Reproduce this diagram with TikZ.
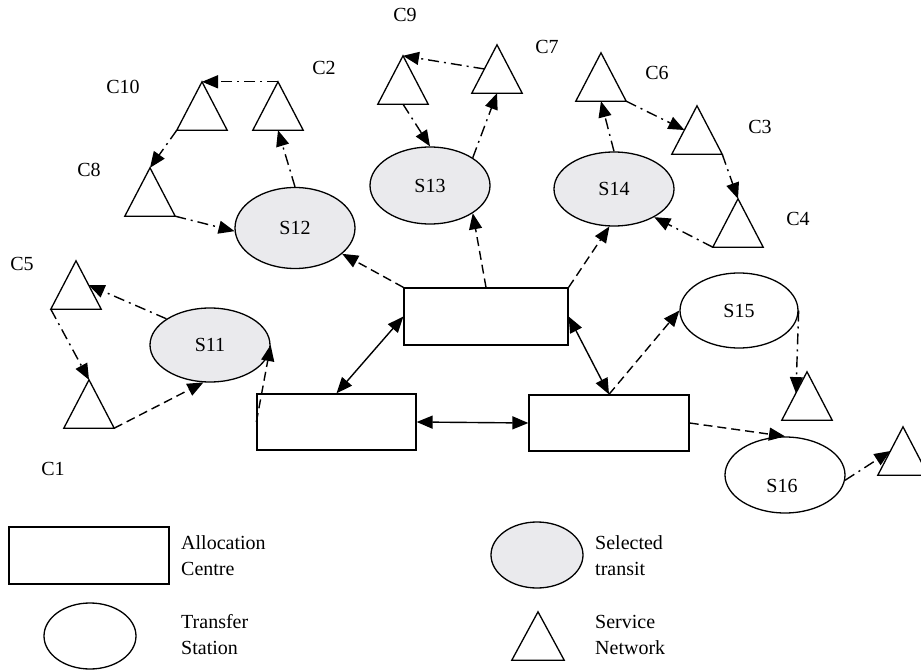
\documentclass[tikz,border=0pt]{standalone}
\usepackage{fontspec}
\setmainfont{Liberation Serif}
\usetikzlibrary{shapes.geometric,arrows.meta,calc}
\definecolor{selfill}{RGB}{234,234,237}
\tikzset{
  every node/.style={font=\fontsize{20}{26}\selectfont, text=black},
  acbox/.style={draw, line width=1.3pt, inner sep=0pt},
  selell/.style={ellipse, draw, line width=1.3pt, fill=selfill, inner sep=0pt, minimum width=120pt},
  trell/.style={ellipse, draw, line width=1.3pt, fill=white, inner sep=0pt, minimum width=120pt},
  trinode/.style={rectangle, draw=none, inner sep=0pt, minimum width=50pt, minimum height=48pt},
  triline/.style={draw, line width=1.3pt, line join=miter},
  tip/.style={-{Triangle[length=16pt,width=13pt]}},
  dsh/.style={tip, line width=1.4pt, dash pattern=on 9pt off 5pt},
  ddot/.style={tip, line width=1.4pt, dash pattern=on 11pt off 5pt on 2pt off 5pt},
  dbl/.style={{Triangle[length=16pt,width=13pt]}-{Triangle[length=16pt,width=13pt]}, line width=1.4pt},
  lbl/.style={inner sep=0pt},
  legtxt/.style={inner sep=0pt, align=left, anchor=west}
}
\begin{document}
\begin{tikzpicture}[x=1pt,y=-1pt]
\useasboundingbox (0,0) rectangle (921,671);

% allocation centres
\node[acbox, minimum width=159pt, minimum height=56pt] (B1) at (336.5,422) {};
\node[acbox, minimum width=164pt, minimum height=57pt] (B2) at (486,316.5) {};
\node[acbox, minimum width=160pt, minimum height=56pt] (B3) at (609,423) {};

% stations
\node[selell, minimum height=74pt] (S11) at (210,345) {S11};
\node[selell, minimum height=81pt] (S12) at (295,228) {S12};
\node[selell, minimum height=77pt] (S13) at (430,185.5) {S13};
\node[selell, minimum height=74pt] (S14) at (614,189) {S14};
\node[trell, minimum width=118pt, minimum height=75pt] (S15) at (739,310.5) {S15};
\node[trell, minimum height=76pt] (S16) at (785,475) {};
\node[lbl] (S16t) at (782,486) {S16};

% service network triangles
\node[trinode] (tC10) at (202,106) {};
\node[trinode] (tC2) at (278,106) {};
\node[trinode] (tC8) at (150,192) {};
\node[trinode] (tC9) at (403,80) {};
\node[trinode] (tC7) at (497,69) {};
\node[trinode] (tC6) at (601,77) {};
\node[trinode] (tC3) at (697,130) {};
\node[trinode] (tC4) at (738,223) {};
\node[trinode] (tC5) at (76,285) {};
\node[trinode] (tC1) at (89,404) {};
\node[trinode] (t15) at (807,396) {};
\node[trinode] (t16) at (903,451) {};
\foreach \n in {tC10,tC2,tC8,tC9,tC7,tC6,tC3,tC4,tC5,tC1,t15,t16}
  \draw[triline] (\n.south west) -- (\n.north) -- (\n.south east) -- cycle;

% triangle labels
\node[lbl] (lC10) at (123,87) {C10};
\node[lbl] (lC2) at (324,68) {C2};
\node[lbl] (lC8) at (89,170) {C8};
\node[lbl] (lC9) at (405,15) {C9};
\node[lbl] (lC7) at (547,47) {C7};
\node[lbl] (lC6) at (657,73) {C6};
\node[lbl] (lC3) at (760,127) {C3};
\node[lbl] (lC4) at (798,219) {C4};
\node[lbl] (lC5) at (22,264) {C5};
\node[lbl] (lC1) at (53,469) {C1};

% solid double arrows between centres
\draw[dbl] (B1.north) -- (B2.west);
\draw[dbl] (B1.east) -- (B3.west);
\draw[dbl] (B2.east) -- (B3.north);

% dashed arrows
\draw[dsh] (B2.north west) -- (S12);
\draw[dsh] (B2.north) -- (S13.-33);
\draw[dsh] (B2.north east) -- (S14.-97);
\draw[dsh] (B3.north) -- (S15.west);
\draw[dsh] (B3.east) -- (S16.north);
\draw[dsh] (B1.west) -- (S11.east);
\draw[dsh] (tC1.south east) -- (S11.-100);

% dash-dot arrows
\draw[ddot] (S11.149) -- ($(tC5.north)!0.5!(tC5.south east)$);
\draw[ddot] (tC5.south west) -- (tC1.north);
\draw[ddot] (tC8.south east) -- (S12.183);
\draw[ddot] (S12.north) -- (tC2.south);
\draw[ddot] (tC2.north) -- (tC10.north);
\draw[ddot] (tC10.south west) -- (tC8.north);
\draw[ddot] (tC9.south) -- (S13.north);
\draw[ddot] (S13.33) -- (tC7.south);
\draw[ddot] ($(tC7.north)!0.5!(tC7.south west)$) -- (tC9.north);
\draw[ddot] (S14.north) -- (tC6.south);
\draw[ddot] (tC6.south east) -- ($(tC3.north)!0.5!(tC3.south west)$);
\draw[ddot] (tC3.south east) -- (tC4.north);
\draw[ddot] (tC4.south west) -- (S14.-35);
\draw[ddot] (S15.east) -- ($(t15.north)!0.44!(t15.south west)$);
\draw[ddot] (S16.-5) -- ($(t16.north)!0.5!(t16.south west)$);

% legend
\node[acbox, minimum width=160pt, minimum height=57pt] (LB) at (89,555.5) {};
\node[legtxt] (LBt) at (181,556) {Allocation\\Centre};
\node[trell, minimum width=92pt, minimum height=66pt] (LT) at (90,636) {};
\node[legtxt] (LTt) at (181,635) {Transfer\\Station};
\node[selell, minimum width=92pt, minimum height=66pt] (LS) at (537,555) {};
\node[legtxt] (LSt) at (595,556) {Selected\\transit};
\node[trinode, minimum width=52pt] (LN) at (538,636) {};
\draw[triline] (LN.south west) -- (LN.north) -- (LN.south east) -- cycle;
\node[legtxt] (LNt) at (595,635) {Service\\Network};
\end{tikzpicture}
\end{document}
